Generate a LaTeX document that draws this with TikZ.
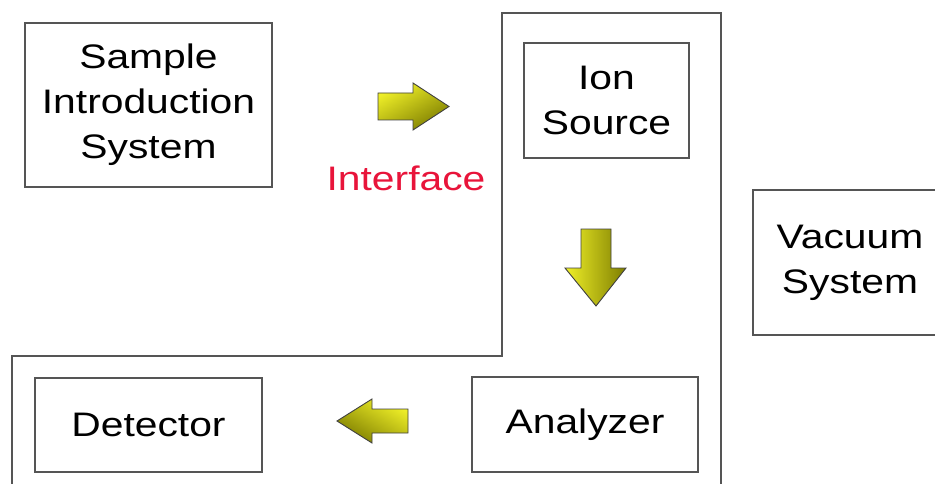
\documentclass[tikz,border=0pt]{standalone}
\usepackage{fontspec}
\setmainfont{Liberation Sans}[FakeStretch=1.2]
\usepackage{tikz}
\usetikzlibrary{arrows,shapes}
\definecolor{boxline}{RGB}{85,85,85}
\definecolor{redtext}{RGB}{232,20,58}
\definecolor{yyellow}{RGB}{240,240,40}
\definecolor{yolive}{RGB}{125,125,0}
\tikzstyle{block} = [rectangle, draw=boxline, line width=1.1pt, fill=white,
    align=center, font=\fontsize{34}{45}\selectfont]
\tikzstyle{blockarrow} = [draw=black!75, line width=0.9pt, line join=miter]

\begin{document}
\begin{tikzpicture}[x=1pt, y=-1pt]
  \clip (0,0) rectangle (935,484);
  % Outline of the spectrometer
  \draw [boxline, line width=1.1pt] (12,484) -- (12,356) -- (502,356)
    -- (502,13) -- (721,13) -- (721,484);
  % Place nodes
  \node [block, minimum width=247, minimum height=164] (sample) at (148.5,105)
  {Sample\\Introduction\\System};
  \node [block, minimum width=165, minimum height=115] (ion) at (606.5,100.5)
  {Ion\\Source};
  \node [block, minimum width=194, minimum height=145] (vacuum) at (850,262.5)
  {Vacuum\\System};
  \node [block, minimum width=227, minimum height=94] (detector) at (148.5,425)
  {Detector};
  \node [block, minimum width=226, minimum height=95] (analyzer) at (585,424.5)
  {Analyzer};
  \node [text=redtext, font=\fontsize{34}{45}\selectfont] (interface)
  at (406,178) {Interface};
  % Draw block arrows
  \shadedraw [blockarrow, top color=yyellow, bottom color=yolive,
  shading angle=30] (378,93) -- (413,93) -- (413,83) -- (449,106.5)
  -- (413,130) -- (413,120) -- (378,120) -- cycle;
  \shadedraw [blockarrow, left color=yyellow, right color=yolive]
  (581,229) -- (611,229) -- (611,268) -- (626,268) -- (596,306)
  -- (565,268) -- (581,268) -- cycle;
  \shadedraw [blockarrow, top color=yyellow, bottom color=yolive,
  shading angle=-30] (408,409) -- (372,409) -- (372,399) -- (337,421)
  -- (372,443) -- (372,433) -- (408,433) -- cycle;
\end{tikzpicture}
\end{document}
